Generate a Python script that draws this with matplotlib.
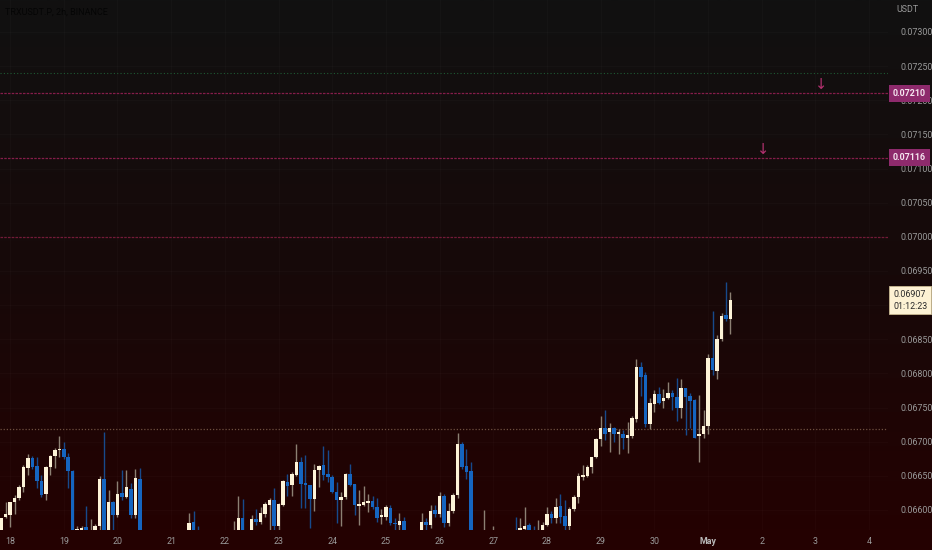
import numpy as np
import pandas as pd
import matplotlib
matplotlib.use("Agg")
import matplotlib.pyplot as plt
import matplotlib.dates as mdates

plt.rcParams['font.family'] = ['Roboto', 'DejaVu Sans']

# ---- data (2h candles, TRXUSDT.P) ----
start_time = "2023-04-17 20:00"
opens = [0.06565,0.06590,0.06593,0.06611,0.06617,0.06634,0.06662,0.06676,0.06665,0.06642,
         0.06623,0.06663,0.06679,0.06688,0.06690,0.06677,0.06657,0.06565,0.06566,0.06575,
         0.06560,0.06568,0.06576,0.06646,0.06565,0.06611,0.06593,0.06625,0.06619,0.06631,
         0.06592,0.06646,0.06560,0.06548,0.06555,0.06545,0.06552,0.06560,0.06553,0.06547,
         0.06556,0.06559,0.06565,0.06582,0.06565,0.06550,0.06556,0.06549,0.06555,0.06561,
         0.06554,0.06559,0.06560,0.06566,0.06589,0.06562,0.06566,0.06587,0.06583,0.06594,
         0.06607,0.06615,0.06576,0.06608,0.06641,0.06636,0.06651,0.06670,0.06639,0.06637,
         0.06616,0.06659,0.06666,0.06653,0.06648,0.06627,0.06615,0.06619,0.06653,0.06638,
         0.06606,0.06608,0.06610,0.06613,0.06605,0.06590,0.06590,0.06603,0.06581,0.06578,
         0.06584,0.06560,0.06552,0.06561,0.06566,0.06583,0.06578,0.06600,0.06594,0.06621,
         0.06581,0.06599,0.06622,0.06697,0.06664,0.06657,0.06555,0.06560,0.06552,0.06562,
         0.06556,0.06564,0.06558,0.06550,0.06557,0.06566,0.06556,0.06572,0.06578,0.06565,
         0.06558,0.06566,0.06578,0.06594,0.06589,0.06606,0.06591,0.06576,0.06601,0.06619,
         0.06649,0.06650,0.06663,0.06678,0.06704,0.06720,0.06714,0.06720,0.06711,0.06711,
         0.06706,0.06709,0.06733,0.06809,0.06798,0.06726,0.06755,0.06770,0.06759,0.06764,
         0.06772,0.06766,0.06750,0.06778,0.06767,0.06761,0.06708,0.06712,0.06723,0.06822,
         0.06804,0.06850,0.06886,0.06879]
highs = [0.06589,0.06612,0.06612,0.06622,0.06636,0.06666,0.06682,0.06679,0.06678,0.06651,
         0.06665,0.06681,0.06691,0.06708,0.06700,0.06683,0.06659,0.06577,0.06576,0.06606,
         0.06587,0.06580,0.06650,0.06714,0.06629,0.06613,0.06642,0.06659,0.06659,0.06640,
         0.06660,0.06662,0.06568,0.06560,0.06565,0.06558,0.06566,0.06568,0.06562,0.06560,
         0.06566,0.06569,0.06595,0.06599,0.06577,0.06562,0.06566,0.06560,0.06568,0.06569,
         0.06565,0.06570,0.06584,0.06620,0.06616,0.06571,0.06593,0.06601,0.06605,0.06612,
         0.06618,0.06632,0.06610,0.06644,0.06652,0.06656,0.06697,0.06677,0.06681,0.06637,
         0.06667,0.06666,0.06694,0.06688,0.06651,0.06641,0.06627,0.06654,0.06667,0.06638,
         0.06630,0.06635,0.06624,0.06620,0.06618,0.06601,0.06607,0.06607,0.06589,0.06596,
         0.06590,0.06570,0.06566,0.06570,0.06595,0.06589,0.06607,0.06608,0.06627,0.06623,
         0.06610,0.06625,0.06713,0.06700,0.06690,0.06671,0.06568,0.06570,0.06600,0.06570,
         0.06576,0.06571,0.06568,0.06563,0.06569,0.06590,0.06588,0.06605,0.06581,0.06576,
         0.06585,0.06583,0.06604,0.06598,0.06617,0.06624,0.06615,0.06605,0.06622,0.06654,
         0.06666,0.06666,0.06678,0.06705,0.06738,0.06746,0.06727,0.06722,0.06718,0.06717,
         0.06729,0.06738,0.06821,0.06817,0.06802,0.06764,0.06776,0.06780,0.06777,0.06788,
         0.06776,0.06794,0.06792,0.06778,0.06771,0.06762,0.06768,0.06747,0.06828,0.06892,
         0.06856,0.06888,0.06934,0.06919]
lows = [0.06560,0.06588,0.06575,0.06594,0.06615,0.06627,0.06651,0.06660,0.06632,0.06619,
        0.06615,0.06651,0.06662,0.06677,0.06675,0.06632,0.06550,0.06555,0.06560,0.06555,
        0.06555,0.06560,0.06570,0.06550,0.06555,0.06571,0.06590,0.06615,0.06617,0.06588,
        0.06588,0.06550,0.06540,0.06535,0.06540,0.06530,0.06545,0.06548,0.06540,0.06538,
        0.06548,0.06550,0.06558,0.06550,0.06545,0.06540,0.06545,0.06538,0.06548,0.06550,
        0.06545,0.06552,0.06552,0.06560,0.06555,0.06552,0.06560,0.06578,0.06580,0.06590,
        0.06571,0.06565,0.06570,0.06606,0.06620,0.06620,0.06650,0.06603,0.06603,0.06573,
        0.06599,0.06633,0.06644,0.06641,0.06625,0.06581,0.06577,0.06616,0.06635,0.06593,
        0.06578,0.06606,0.06597,0.06602,0.06583,0.06580,0.06585,0.06578,0.06565,0.06565,
        0.06550,0.06545,0.06540,0.06550,0.06558,0.06565,0.06574,0.06590,0.06590,0.06575,
        0.06576,0.06595,0.06617,0.06660,0.06646,0.06540,0.06540,0.06548,0.06545,0.06550,
        0.06548,0.06552,0.06545,0.06540,0.06550,0.06545,0.06550,0.06565,0.06550,0.06548,
        0.06550,0.06560,0.06576,0.06581,0.06581,0.06581,0.06565,0.06570,0.06598,0.06610,
        0.06644,0.06649,0.06654,0.06676,0.06693,0.06703,0.06685,0.06700,0.06682,0.06690,
        0.06683,0.06706,0.06729,0.06767,0.06722,0.06719,0.06743,0.06755,0.06749,0.06762,
        0.06747,0.06731,0.06734,0.06710,0.06720,0.06705,0.06670,0.06706,0.06712,0.06797,
        0.06792,0.06848,0.06877,0.06858]
closes = [0.06588,0.06594,0.06612,0.06618,0.06634,0.06663,0.06676,0.06663,0.06643,0.06622,
          0.06663,0.06679,0.06688,0.06690,0.06677,0.06657,0.06560,0.06572,0.06574,0.06565,
          0.06570,0.06577,0.06646,0.06560,0.06611,0.06593,0.06624,0.06619,0.06633,0.06592,
          0.06647,0.06560,0.06548,0.06555,0.06545,0.06552,0.06560,0.06553,0.06547,0.06556,
          0.06559,0.06564,0.06581,0.06562,0.06550,0.06556,0.06549,0.06555,0.06561,0.06554,
          0.06559,0.06563,0.06568,0.06588,0.06562,0.06566,0.06587,0.06583,0.06596,0.06609,
          0.06615,0.06576,0.06609,0.06642,0.06635,0.06652,0.06670,0.06638,0.06637,0.06616,
          0.06659,0.06665,0.06651,0.06648,0.06627,0.06615,0.06619,0.06652,0.06637,0.06607,
          0.06609,0.06611,0.06613,0.06604,0.06589,0.06593,0.06605,0.06581,0.06579,0.06584,
          0.06560,0.06552,0.06561,0.06566,0.06583,0.06578,0.06599,0.06594,0.06621,0.06581,
          0.06599,0.06622,0.06697,0.06663,0.06656,0.06555,0.06560,0.06552,0.06562,0.06556,
          0.06564,0.06558,0.06550,0.06557,0.06563,0.06555,0.06573,0.06577,0.06560,0.06558,
          0.06566,0.06578,0.06594,0.06589,0.06605,0.06590,0.06576,0.06602,0.06619,0.06650,
          0.06651,0.06663,0.06677,0.06704,0.06720,0.06712,0.06720,0.06712,0.06714,0.06706,
          0.06710,0.06734,0.06810,0.06795,0.06726,0.06756,0.06770,0.06757,0.06764,0.06772,
          0.06766,0.06750,0.06778,0.06766,0.06760,0.06706,0.06712,0.06723,0.06822,0.06805,
          0.06850,0.06884,0.06879,0.06907]

day_ticks = ["2023-04-18","2023-04-19","2023-04-20","2023-04-21","2023-04-22","2023-04-23",
             "2023-04-24","2023-04-25","2023-04-26","2023-04-27","2023-04-28","2023-04-29",
             "2023-04-30","2023-05-01","2023-05-02","2023-05-03","2023-05-04"]
day_labels = ["18","19","20","21","22","23","24","25","26","27","28","29","30","May","2","3","4"]
price_ticks = [0.06600,0.06650,0.06700,0.06750,0.06800,0.06850,0.06900,0.06950,
               0.07000,0.07050,0.07100,0.07150,0.07200,0.07250,0.07300]
price_labels = ["0.06600","0.06650","0.06700","0.06750","0.06800","0.06850","","0.06950",
                "0.07000","0.07050","0.07100","0.07150","0.07200","0.07250","0.07300"]

title = "TRXUSDT.P, 2h, BINANCE"
alert_levels = [0.07210, 0.07116]
alert_labels = ["0.07210", "0.07116"]
level_green = 0.07240
level_red = 0.07000
level_dotted = 0.06718
arrow_times = ["2023-05-03 02:30", "2023-05-02 00:30"]
arrow_prices = [0.07223, 0.07128]
last_price_label = "0.06907"
countdown_label = "01:12:23"
last_price = 0.06907
xlim = ("2023-04-17 19:30", "2023-05-04 08:25")
ylim = (0.065707, 0.073468)

# ---- figure ----
W, H = 932, 550
fig = plt.figure(figsize=(W/100, H/100), dpi=100)

# background gradient
bg = fig.add_axes([0, 0, 1, 1], zorder=-10)
top = np.array([0x11, 0x11, 0x11]) / 255
mid = np.array([0x17, 0x09, 0x09]) / 255
bot = np.array([0x25, 0x01, 0x01]) / 255
t = np.linspace(0, 1, 256)[:, None]
grad = np.where(t < 0.5, top + (mid - top) * (t / 0.5), mid + (bot - mid) * ((t - 0.5) / 0.5))
bg.imshow(grad[:, None, :], aspect='auto', extent=[0, 1, 0, 1], origin='upper')
bg.set_axis_off()

ax = fig.add_axes([0, 20/H, 888/W, 530/H])
ax.set_facecolor('none')

times = pd.date_range(start_time, periods=len(opens), freq="2h")
x = mdates.date2num(times)
o = np.array(opens); h = np.array(highs); l = np.array(lows); c = np.array(closes)
up = c >= o

up_body = '#fdf3d8'
up_wick = '#8c8073'
dn_body = '#1565c0'
dn_wick = '#174a8c'

ax.vlines(x[up], l[up], h[up], color=up_wick, lw=1.0, zorder=3)
ax.vlines(x[~up], l[~up], h[~up], color=dn_wick, lw=1.0, zorder=3)
bw = 0.78 / 12
bottoms = np.minimum(o, c)
heights = np.maximum(np.abs(c - o), 0.000018)
ax.bar(x[up], heights[up], bottom=bottoms[up], width=bw, color=up_body, lw=0, zorder=4)
ax.bar(x[~up], heights[~up], bottom=bottoms[~up], width=bw, color=dn_body, lw=0, zorder=4)

# levels
ax.axhline(level_green, color='#1e5a34', lw=0.8, ls=(0, (1, 2)), zorder=2)
for lv in alert_levels:
    ax.axhline(lv, color='#851d4a', lw=0.9, ls=(0, (2, 1)), zorder=2)
ax.axhline(level_red, color='#731a38', lw=0.9, ls=(0, (2, 1)), zorder=2)
ax.axhline(level_dotted, color='#6e5040', lw=0.9, ls=(0, (1, 1.5)), zorder=2)

for at, ap in zip(arrow_times, arrow_prices):
    ax.text(mdates.date2num(pd.Timestamp(at)), ap, "↓", color='#b2306e', fontsize=10.5,
            ha='center', va='center', family='DejaVu Sans', zorder=5)

ax.set_xlim(mdates.date2num(pd.Timestamp(xlim[0])), mdates.date2num(pd.Timestamp(xlim[1])))
ax.set_ylim(*ylim)

# grid
xt = mdates.date2num(pd.to_datetime(day_ticks))
ax.set_xticks(xt)
ax.set_xticklabels(day_labels)
ax.set_yticks(price_ticks)
ax.set_yticklabels(price_labels)
ax.grid(True, color='#ffffff', alpha=0.02, lw=0.8)
ax.yaxis.tick_right()
ax.tick_params(axis='both', length=0, colors='#9a9a9a', labelsize=6.4)
ax.tick_params(axis='y', pad=9)
ax.tick_params(axis='x', pad=5)
for lab in ax.get_xticklabels():
    if lab.get_text() == "May":
        lab.set_fontweight('bold')
        lab.set_color('#b8b8b8')
for s in ax.spines.values():
    s.set_visible(False)

# price scale labels
for lv, txt in zip(alert_levels, alert_labels):
    ax.text(1.0 + 5/888, lv, txt, transform=ax.get_yaxis_transform(), color='#f6e6f0',
            fontsize=6.4, fontweight='bold', va='center', ha='left', zorder=10, clip_on=False,
            bbox=dict(boxstyle='square,pad=0.42', fc='#8e2a6c', ec='none'))
ax.text(1.0 + 5/888, last_price, last_price_label + "\n" + countdown_label,
        transform=ax.get_yaxis_transform(), color='#2a2a2a', fontsize=6.4, va='center',
        ha='left', zorder=10, clip_on=False, linespacing=1.35,
        bbox=dict(boxstyle='square,pad=0.42', fc='#fdf2d4', ec='#c8b890', lw=0.6))

fig.text(907/W, 1 - 9/H, "USDT", color='#9a9a9a', fontsize=6.4, ha='center', va='center')
fig.text(5/W, 1 - 12/H, title, color='#050505', fontsize=6.5, ha='left', va='center')

fig.savefig("out.png", dpi=100)
